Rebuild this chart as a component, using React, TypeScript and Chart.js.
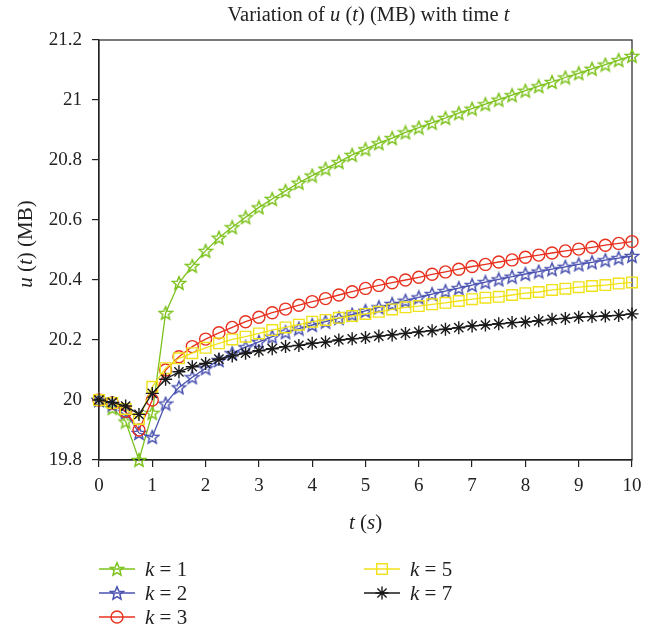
import { useEffect, useRef } from "react";
import { Chart, registerables } from "chart.js";

Chart.register(...registerables);

const T = [0, 0.25, 0.5, 0.75, 1, 1.25, 1.5, 1.75, 2, 2.25, 2.5, 2.75, 3, 3.25, 3.5, 3.75, 4, 4.25, 4.5, 4.75, 5, 5.25, 5.5, 5.75, 6, 6.25, 6.5, 6.75, 7, 7.25, 7.5, 7.75, 8, 8.25, 8.5, 8.75, 9, 9.25, 9.5, 9.75, 10];

const K1 = [20.0, 19.973, 19.928, 19.8, 19.957, 20.29, 20.39, 20.447, 20.497, 20.541, 20.576, 20.609, 20.642, 20.67, 20.697, 20.724, 20.748, 20.771, 20.793, 20.817, 20.836, 20.856, 20.873, 20.892, 20.908, 20.924, 20.94, 20.956, 20.971, 20.986, 21.001, 21.016, 21.031, 21.046, 21.06, 21.075, 21.089, 21.104, 21.118, 21.133, 21.147];
const K2 = [20.0, 19.985, 19.96, 19.89, 19.877, 19.988, 20.042, 20.076, 20.106, 20.133, 20.156, 20.176, 20.194, 20.211, 20.226, 20.238, 20.25, 20.261, 20.273, 20.285, 20.297, 20.309, 20.32, 20.331, 20.342, 20.353, 20.363, 20.373, 20.383, 20.393, 20.402, 20.411, 20.42, 20.428, 20.436, 20.444, 20.452, 20.459, 20.466, 20.473, 20.48];
const K3 = [20.0, 19.99, 19.962, 19.9, 20.0, 20.1, 20.144, 20.178, 20.203, 20.224, 20.242, 20.261, 20.276, 20.291, 20.303, 20.316, 20.328, 20.338, 20.35, 20.361, 20.372, 20.382, 20.391, 20.4, 20.409, 20.419, 20.427, 20.436, 20.445, 20.452, 20.46, 20.467, 20.476, 20.483, 20.49, 20.497, 20.503, 20.509, 20.516, 20.522, 20.528];
const K5 = [20.0, 19.99, 19.97, 19.937, 20.044, 20.106, 20.139, 20.156, 20.174, 20.189, 20.202, 20.211, 20.222, 20.233, 20.242, 20.251, 20.261, 20.267, 20.274, 20.28, 20.287, 20.294, 20.302, 20.309, 20.313, 20.319, 20.324, 20.33, 20.336, 20.341, 20.344, 20.35, 20.356, 20.36, 20.367, 20.371, 20.376, 20.38, 20.383, 20.388, 20.392];
const K7 = [20.0, 19.992, 19.98, 19.952, 20.022, 20.069, 20.094, 20.111, 20.122, 20.136, 20.147, 20.156, 20.164, 20.171, 20.178, 20.182, 20.189, 20.193, 20.2, 20.204, 20.208, 20.213, 20.217, 20.222, 20.227, 20.231, 20.236, 20.241, 20.247, 20.25, 20.254, 20.258, 20.26, 20.264, 20.269, 20.272, 20.276, 20.278, 20.28, 20.282, 20.287];

const SERIES_NAMES = ["1", "2", "3", "5", "7"];
const COLORS = ["#7cc21c", "#4a52b0", "#e8301e", "#f0e21a", "#1a1a1a"];

const SERIF = '"Liberation Serif", "DejaVu Serif", serif';
const TEXT = "#222";

function makeStar(color: string) {
  const size = 16;
  const c = document.createElement("canvas");
  c.width = size;
  c.height = size;
  const ctx = c.getContext("2d")!;
  const cx = size / 2;
  const cy = size / 2 + 0.6;
  const R = 6.8;
  const r = R * 0.45;
  ctx.beginPath();
  for (let i = 0; i < 10; i++) {
    const a = -Math.PI / 2 + (i * Math.PI) / 5;
    const rad = i % 2 === 0 ? R : r;
    const x = cx + rad * Math.cos(a);
    const y = cy + rad * Math.sin(a);
    if (i === 0) ctx.moveTo(x, y);
    else ctx.lineTo(x, y);
  }
  ctx.closePath();
  ctx.strokeStyle = color;
  ctx.lineWidth = 1.5;
  ctx.lineJoin = "miter";
  ctx.stroke();
  return c;
}

type Part = [string, boolean];

function drawRich(ctx: CanvasRenderingContext2D, parts: Part[], x: number, y: number, size: number, align: "center" | "left") {
  ctx.save();
  ctx.textBaseline = "alphabetic";
  ctx.textAlign = "left";
  const fontOf = (it: boolean) => `${it ? "italic " : ""}${size}px ${SERIF}`;
  let total = 0;
  for (const [t, it] of parts) {
    ctx.font = fontOf(it);
    total += ctx.measureText(t).width;
  }
  let cx = align === "center" ? x - total / 2 : x;
  ctx.fillStyle = TEXT;
  for (const [t, it] of parts) {
    ctx.font = fontOf(it);
    ctx.fillText(t, cx, y);
    cx += ctx.measureText(t).width;
  }
  ctx.restore();
}

export default function App() {
  const ref = useRef<HTMLCanvasElement | null>(null);

  useEffect(() => {
    document.body.style.margin = "0";
    const canvas = ref.current!;
    const stars = [makeStar(COLORS[0]), makeStar(COLORS[1])];
    const seriesData = [K1, K2, K3, K5, K7];
    const styles: any[] = [stars[0], stars[1], "circle", "rect", "star"];
    const radii = [6, 6, 6, 7.5, 6.5];
    const orders = [4, 3, 2, 1, 0];

    const datasets = seriesData.map((vals, i) => ({
      label: "k = " + SERIES_NAMES[i],
      data: T.map((t, j) => ({ x: t, y: vals[j] })),
      borderColor: COLORS[i],
      borderWidth: 1.3,
      pointStyle: styles[i],
      pointRadius: radii[i],
      pointBorderColor: COLORS[i],
      pointBackgroundColor: "rgba(0,0,0,0)",
      pointBorderWidth: 1.4,
      tension: 0,
      clip: false as any,
      order: orders[i],
    }));

    const drawMarker = (ctx: CanvasRenderingContext2D, i: number, x: number, y: number) => {
      const st = styles[i];
      ctx.save();
      if (typeof st !== "string") {
        ctx.drawImage(st, x - st.width / 2, y - st.height / 2);
      } else {
        ctx.strokeStyle = COLORS[i];
        ctx.lineWidth = 1.4;
        ctx.beginPath();
        if (st === "circle") {
          ctx.arc(x, y, 6, 0, Math.PI * 2);
        } else if (st === "rect") {
          const s = 7.5 * Math.SQRT1_2;
          ctx.rect(x - s, y - s, 2 * s, 2 * s);
        } else {
          const r = 6.5;
          for (let k = 0; k < 4; k++) {
            const a = (k * Math.PI) / 4;
            ctx.moveTo(x - r * Math.cos(a), y - r * Math.sin(a));
            ctx.lineTo(x + r * Math.cos(a), y + r * Math.sin(a));
          }
        }
        ctx.stroke();
      }
      ctx.restore();
    };

    const decor = {
      id: "decor",
      beforeDatasetsDraw(chart: any) {
        const { ctx, chartArea: a } = chart;
        ctx.save();
        ctx.strokeStyle = TEXT;
        ctx.lineWidth = 1.2;
        ctx.strokeRect(a.left, a.top, a.right - a.left, a.bottom - a.top);
        ctx.restore();
      },
      afterDraw(chart: any) {
        const { ctx, chartArea: a } = chart;
        const cxm = (a.left + a.right) / 2;
        drawRich(ctx, [["Variation of ", false], ["u", true], [" (", false], ["t", true], [") (MB) with time ", false], ["t", true]], cxm + 3, 21, 20.5, "center");
        drawRich(ctx, [["t", true], [" (", false], ["s", true], [")", false]], cxm, 529, 21, "center");
        ctx.save();
        ctx.translate(32, 244);
        ctx.rotate(-Math.PI / 2);
        drawRich(ctx, [["u", true], [" (", false], ["t", true], [") (MB)", false]], 0, 0, 21, "center");
        ctx.restore();

        const items = [
          { i: 0, x0: 99, y: 569 },
          { i: 1, x0: 99, y: 593 },
          { i: 2, x0: 99, y: 617 },
          { i: 3, x0: 364, y: 569 },
          { i: 4, x0: 364, y: 593 },
        ];
        for (const it of items) {
          ctx.save();
          ctx.strokeStyle = COLORS[it.i];
          ctx.lineWidth = 1.3;
          ctx.beginPath();
          ctx.moveTo(it.x0, it.y);
          ctx.lineTo(it.x0 + 36, it.y);
          ctx.stroke();
          ctx.restore();
          drawMarker(ctx, it.i, it.x0 + 18, it.y);
          drawRich(ctx, [["k", true], [" = " + SERIES_NAMES[it.i], false]], it.x0 + 46, it.y + 7, 21, "left");
        }
      },
    };

    const tickFont = { family: SERIF, size: 19 };

    const chart = new Chart(canvas, {
      type: "line",
      data: { datasets: datasets as any },
      options: {
        animation: false,
        responsive: false,
        maintainAspectRatio: false,
        layout: { padding: { top: 40, right: 23, left: 0, bottom: 0 } },
        plugins: { legend: { display: false }, title: { display: false }, tooltip: { enabled: false } },
        scales: {
          x: {
            type: "linear",
            min: 0,
            max: 10,
            ticks: { stepSize: 1, font: tickFont, color: TEXT, padding: 8, maxRotation: 0 },
            grid: { drawOnChartArea: false, drawTicks: true, tickLength: 7, color: TEXT, lineWidth: 1.2 },
            border: { display: true, color: TEXT, width: 1.2 },
            afterFit: (s: any) => { s.height = 171; },
          },
          y: {
            type: "linear",
            min: 19.8,
            max: 21.2,
            ticks: {
              stepSize: 0.2,
              font: tickFont,
              color: TEXT,
              padding: 10,
              callback: (v: any) => String(Math.round(Number(v) * 10) / 10),
            },
            grid: { drawOnChartArea: false, drawTicks: true, tickLength: 7, color: TEXT, lineWidth: 1.2 },
            border: { display: true, color: TEXT, width: 1.2 },
            afterFit: (s: any) => { s.width = 99; },
          },
        },
      },
      plugins: [decor],
    });
    return () => chart.destroy();
  }, []);

  return <canvas ref={ref} width={655} height={631} style={{ display: "block" }} />;
}
